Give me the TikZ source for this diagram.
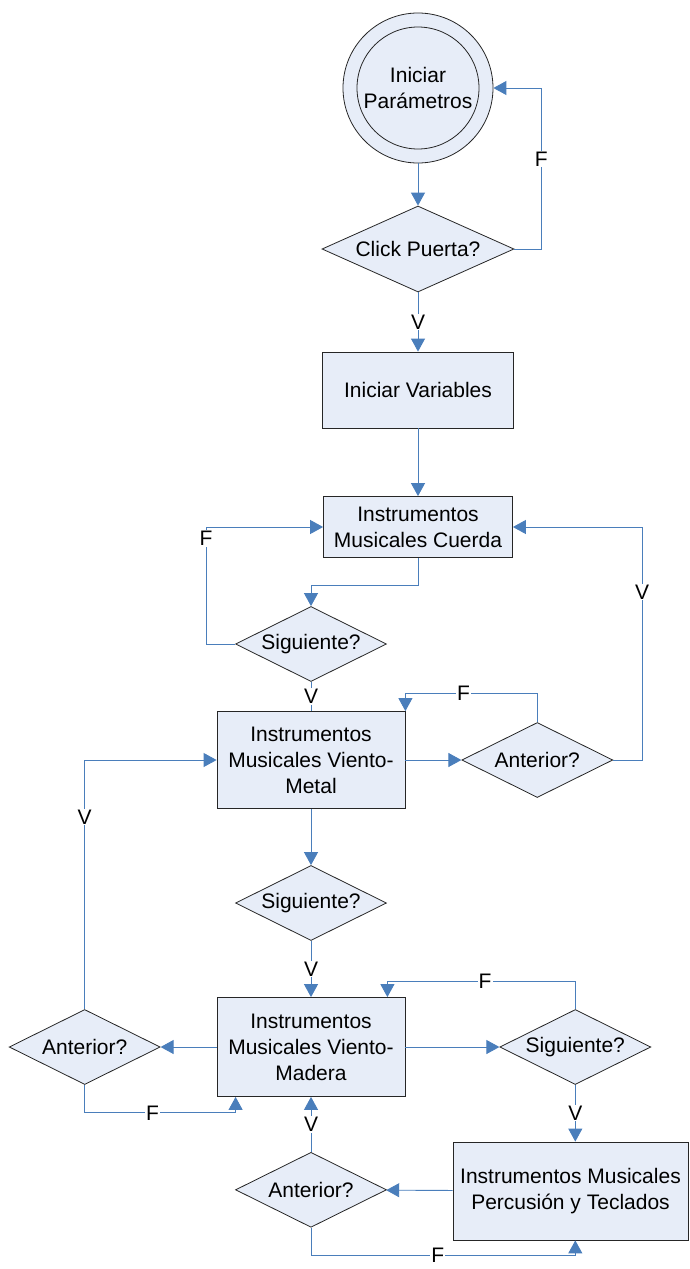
\documentclass[tikz,border=0pt]{standalone}
\usepackage{fontspec}
\setmainfont{Liberation Sans}
\usetikzlibrary{arrows.meta,shapes.geometric,positioning}

\definecolor{linkblue}{HTML}{4A7EBB}
\definecolor{boxfill}{HTML}{E7EDF8}

\begin{document}
\begin{tikzpicture}[x=1pt, y=-1pt, >={Triangle[length=13pt,width=14pt]},
    every node/.style={font=\fontsize{21}{26}\selectfont},
    proc/.style={draw=black!85, fill=boxfill, line width=0.8pt, align=center, inner sep=4pt},
    cond/.style={diamond, draw=black!85, fill=boxfill, line width=0.8pt, aspect=2, inner sep=0pt,
                 minimum width=151pt, minimum height=75pt},
    flow/.style={draw=linkblue, line width=0.9pt},
    lbl/.style={fill=white, inner sep=1pt}]
    \useasboundingbox (0,0) rectangle (689,1269);

    \node[circle, draw=black!85, fill=boxfill, line width=0.8pt, minimum size=150pt] (start)   at (418,88)   {};
    \node[circle, draw=black!85, fill=boxfill, line width=0.8pt, minimum size=122pt, align=center, inner sep=0pt]
                                                                     (startin) at (418,88)   {Iniciar\\Parámetros};
    \node[cond, minimum width=192pt, minimum height=86pt]            (click)   at (418,249)  {Click Puerta?};
    \node[proc, minimum width=191pt, minimum height=76pt]            (vars)    at (418,390)  {Iniciar Variables};
    \node[proc, minimum width=189pt, minimum height=61pt]            (cuerda)  at (418,527)  {Instrumentos\\Musicales Cuerda};
    \node[cond]                                                      (sig1)    at (311,644)  {Siguiente?};
    \node[proc, minimum width=188pt, minimum height=97pt]            (metal)   at (311,760)  {Instrumentos\\Musicales Viento-\\Metal};
    \node[cond]                                                      (ant1)    [right=56pt of metal]   {Anterior?};
    \node[cond]                                                      (sig2)    at (311,903)  {Siguiente?};
    \node[proc, minimum width=188pt, minimum height=99pt]            (madera)  at (311,1047) {Instrumentos\\Musicales Viento-\\Madera};
    \node[cond]                                                      (antL)    [left=56pt of madera]   {Anterior?};
    \node[cond]                                                      (sig3)    [right=94pt of madera]  {Siguiente?};
    \node[proc, minimum width=235pt, minimum height=98pt]            (perc)    at (570.5,1191) {Instrumentos Musicales\\Percusión y Teclados};
    \node[cond]                                                      (antB)    [below=55pt of madera]  {Anterior?};

    % inicio
    \draw[flow,->] (start) -- (click);
    \draw[flow,->] (click.east) -- ++(27,0) |- node[lbl, pos=0.28] {F} (start.east);
    \draw[flow,->] (click) -- node[lbl] {V} (vars);
    \draw[flow,->] (vars) -- (cuerda);

    % cuerda
    \draw[flow,->] (cuerda.south) -- ++(0,28) -| (sig1.north);
    \draw[flow,->] (sig1.west) -- ++(-29,0) |- node[lbl, pos=0.45] {F} (cuerda.west);
    \draw[flow]    (sig1) -- node[lbl] {V} (metal);

    % viento-metal
    \draw[flow,->] (metal) -- (ant1);
    \draw[flow,->] (ant1.north) -- ++(0,-29) -| node[lbl, pos=0.28] {F} (metal.north east);
    \draw[flow,->] (ant1.east) -- ++(29,0) |- node[lbl, pos=0.36] {V} (cuerda.east);
    \draw[flow,->] (metal) -- (sig2);
    \draw[flow,->] (sig2) -- node[lbl] {V} (madera);

    % viento-madera
    \draw[flow,->] (madera) -- (antL);
    \draw[flow,->] (antL.north) |- node[lbl, pos=0.386] {V} (metal.west);
    \draw[flow,->] (antL.south) -- ++(0,28) -| node[lbl, pos=0.225] {F} ([xshift=19pt]madera.south west);
    \draw[flow,->] (madera) -- (sig3);
    \draw[flow,->] (sig3.north) -- ++(0,-28) -| node[lbl, pos=0.24] {F} ([xshift=-18pt]madera.north east);
    \draw[flow,->] (sig3.south) -- node[lbl] {V} (sig3.south |- perc.north);

    % percusion y teclados
    \draw[flow,->] (perc) -- (antB);
    \draw[flow,->] (antB) -- node[lbl] {V} (madera);
    \draw[flow,->] (antB.south) -- ++(0,28) -| node[lbl, pos=0.24] {F} (sig3.south |- perc.south);
\end{tikzpicture}
\end{document}
